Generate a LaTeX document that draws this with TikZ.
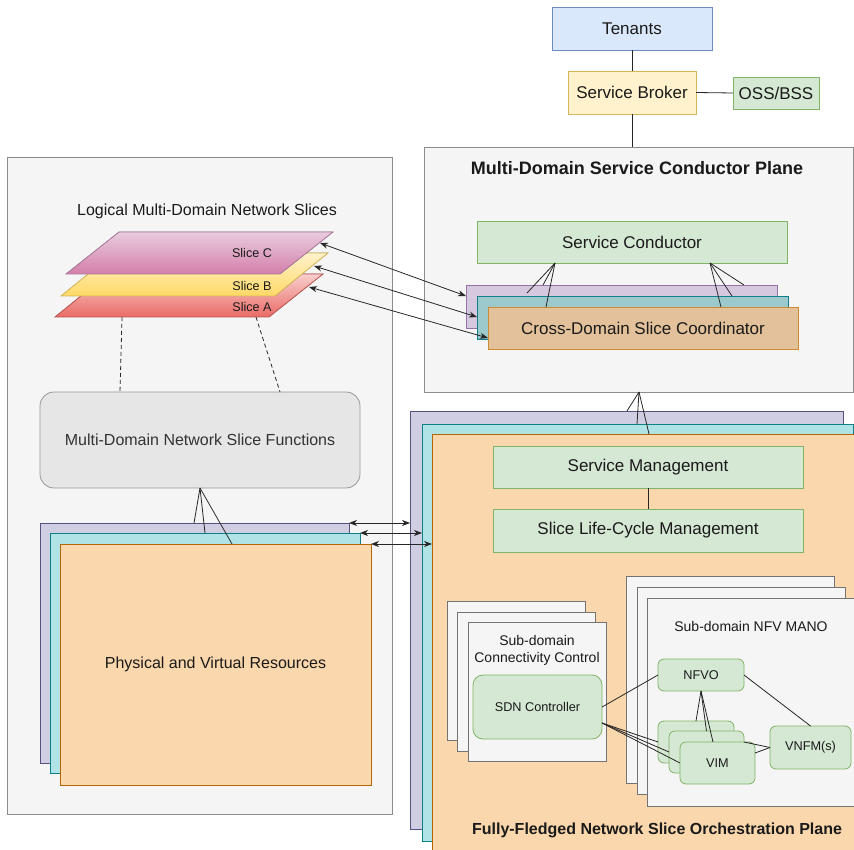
\documentclass[tikz,border=0pt]{standalone}
\usepackage{fontspec}
\setmainfont{Liberation Sans}
\usetikzlibrary{arrows.meta,calc}

\definecolor{txt}{HTML}{1A1A1A}
\definecolor{gtxt}{HTML}{333333}
\definecolor{panelfill}{HTML}{F5F5F5}
\definecolor{panelline}{HTML}{8C8C8C}
\definecolor{blueF}{HTML}{DAE8FC}\definecolor{blueD}{HTML}{6C8EBF}
\definecolor{yelF}{HTML}{FFF2CC}\definecolor{yelD}{HTML}{D6B656}
\definecolor{grnF}{HTML}{D5E8D4}\definecolor{grnD}{HTML}{82B366}
\definecolor{purF}{HTML}{D0CEE2}\definecolor{purD}{HTML}{56517E}
\definecolor{tealF}{HTML}{B0E3E6}\definecolor{tealD}{HTML}{0E8088}
\definecolor{orF}{HTML}{FAD7AC}\definecolor{orD}{HTML}{B46504}
\definecolor{cpurF}{HTML}{D6C9DF}\definecolor{cpurD}{HTML}{9673A6}
\definecolor{ctealF}{HTML}{9CC9CC}\definecolor{ctealD}{HTML}{10808A}
\definecolor{ctanF}{HTML}{E3C29B}\definecolor{ctanD}{HTML}{CC8A33}
\definecolor{mdF}{HTML}{E6E6E6}\definecolor{mdD}{HTML}{999999}
\definecolor{cTop}{HTML}{E8CCDD}\definecolor{cBot}{HTML}{D47FAA}\definecolor{cLine}{HTML}{A8779A}
\definecolor{bTop}{HTML}{FFF2CC}\definecolor{bBot}{HTML}{FFD966}\definecolor{bLine}{HTML}{D6B656}
\definecolor{aTop}{HTML}{F8CECC}\definecolor{aBot}{HTML}{EA6B66}\definecolor{aLine}{HTML}{B85450}

\begin{document}
\begin{tikzpicture}[x=1pt,y=-1pt,
  box/.style={draw,line width=0.8pt,inner sep=0pt,outer sep=0pt,anchor=north west,
              align=center,text=txt,font=\fontsize{17pt}{20pt}\selectfont},
  panel/.style={box,fill=panelfill,draw=panelline},
  greenbox/.style={box,fill=grnF,draw=grnD},
  smallgreen/.style={greenbox,rounded corners=6pt,font=\fontsize{12.7pt}{15pt}\selectfont},
  lay/.style={box,fill=#1F,draw=#1D},
  conn/.style={draw=black!85,line width=0.8pt},
  twoway/.style={conn,{Stealth[length=8pt,width=6pt,inset=2.5pt]}-{Stealth[length=8pt,width=6pt,inset=2.5pt]}},
  lbl/.style={inner sep=0pt,text=txt,align=center}]
\useasboundingbox (0,0) rectangle (854,850);

% ---------- top: tenants and broker ----------
\node[box,fill=blueF,draw=blueD,minimum width=160pt,minimum height=43pt] (tenants) at (552,7) {Tenants};
\node[box,fill=yelF,draw=yelD,minimum width=128pt,minimum height=43pt] (broker) at (568,71) {Service Broker};
\node[greenbox,minimum width=86pt,minimum height=32pt] (oss) at (733,77) {OSS/BSS};

% ---------- multi-domain service conductor plane ----------
\node[panel,minimum width=429pt,minimum height=245pt] (plane) at (424,147) {};
\node[lbl,font=\fontsize{18pt}{21pt}\selectfont\bfseries] (planeT) at (637,168) {Multi-Domain Service Conductor Plane};
\node[greenbox,minimum width=310pt,minimum height=42pt] (sc) at (477,221) {Service Conductor};
\node[lay=cpur,minimum width=311pt,minimum height=43pt] (cdP) at (466,285) {};
\node[lay=cteal,minimum width=311pt,minimum height=43pt] (cdT) at (477,296) {};
\node[lay=ctan,minimum width=310pt,minimum height=42pt] (cdO) at (488,307) {Cross-Domain Slice Coordinator};

\draw[conn] (tenants.south) -- (broker.north);
\draw[conn] (broker.east) -- (oss.west);
\draw[conn] (broker.south) -- (broker.south |- plane.north);

% service conductor fans onto the coordinator layers
\draw[conn] ($(sc.south west)+(78,0)$) -- ($(cdP.north west)+(61,8)$);
\draw[conn] ($(sc.south west)+(78,0)$) -- ($(cdP.north west)+(77,0)$);
\draw[conn] ($(sc.south west)+(78,0)$) -- ($(cdO.north west)+(58,0)$);
\draw[conn] ($(sc.south west)+(233,0)$) -- ($(cdP.north west)+(278,0)$);
\draw[conn] ($(sc.south west)+(233,0)$) -- ($(cdT.north west)+(255,0)$);
\draw[conn] ($(sc.south west)+(233,0)$) -- ($(cdO.north west)+(233,0)$);

% ---------- left panel ----------
\node[panel,minimum width=385pt,minimum height=657pt] (left) at (7,157) {};
\node[lbl,font=\fontsize{16pt}{19pt}\selectfont] (slicesT) at (207,211) {Logical Multi-Domain Network Slices};

% stacked slice planes
\fill[top color=aTop,bottom color=aBot] (108,274) -- (323,274) -- (269,317) -- (55,317) -- cycle;
\draw[aLine,line width=0.8pt] (108,274) -- (323,274) -- (269,317) -- (55,317) -- cycle;
\node[lbl,font=\fontsize{12.6pt}{15pt}\selectfont] (sliceA) at (252,307) {Slice A};
\fill[top color=bTop,bottom color=bBot] (114,253) -- (328,253) -- (275,296) -- (61,296) -- cycle;
\draw[bLine,line width=0.8pt] (114,253) -- (328,253) -- (275,296) -- (61,296) -- cycle;
\node[lbl,font=\fontsize{12.6pt}{15pt}\selectfont] (sliceB) at (252,286) {Slice B};
\fill[top color=cTop,bottom color=cBot] (119,232) -- (333,232) -- (280,274) -- (66,274) -- cycle;
\draw[cLine,line width=0.8pt] (119,232) -- (333,232) -- (280,274) -- (66,274) -- cycle;
\node[lbl,font=\fontsize{12.6pt}{15pt}\selectfont] (sliceC) at (252,253) {Slice C};
\coordinate (cR) at (320,243);
\coordinate (bR) at (314,266);
\coordinate (aR) at (309,287);
\coordinate (aL) at (122,317);
\coordinate (aM) at (256,317);

\node[box,fill=mdF,draw=mdD,rounded corners=14pt,text=gtxt,font=\fontsize{16pt}{19pt}\selectfont,
      minimum width=320pt,minimum height=96pt] (mdnsf) at (40,392) {Multi-Domain Network Slice Functions};
\draw[conn,dashed,dash pattern=on 4pt off 3pt] (aL) -- ($(mdnsf.north west)+(80,0)$);
\draw[conn,dashed,dash pattern=on 4pt off 3pt] (aM) -- ($(mdnsf.north west)+(240,0)$);

% physical and virtual resources
\node[lay=pur,minimum width=309pt,minimum height=240pt] (reP) at (40,523) {};
\node[lay=teal,minimum width=310pt,minimum height=240pt] (reT) at (50,533) {};
\node[lay=or,font=\fontsize{16pt}{19pt}\selectfont,minimum width=311pt,minimum height=241pt] (reO) at (60,544) {Physical and Virtual Resources};
\draw[conn] (mdnsf.south) -- ($(reP.north west)+(154,0)$);
\draw[conn] (mdnsf.south) -- ($(reT.north west)+(155,0)$);
\draw[conn] (mdnsf.south) -- ($(reO.north west)+(172,0)$);

% ---------- network slice orchestration plane ----------
\node[lay=pur,minimum width=433pt,minimum height=418pt] (orP) at (410,411) {};
\node[lay=teal,minimum width=431pt,minimum height=417pt] (orT) at (422,424) {};
\node[lay=or,minimum width=440pt,minimum height=440pt] (orO) at (432,434) {};
\draw[conn] ($(plane.south west)+(215,0)$) -- ($(orP.north west)+(217,0)$);
\draw[conn] ($(plane.south west)+(215,0)$) -- ($(orT.north west)+(215,0)$);
\draw[conn] ($(plane.south west)+(215,0)$) -- ($(orO.north west)+(217,0)$);

\node[greenbox,minimum width=310pt,minimum height=42pt] (smg) at (493,446) {Service Management};
\node[greenbox,minimum width=310pt,minimum height=43pt] (slcm) at (493,509) {Slice Life-Cycle Management};
\draw[conn] (smg.south) -- (slcm.north);

% sub-domain connectivity control
\node[panel,draw=black!55,minimum width=138pt,minimum height=139pt] (cc1) at (447,601) {};
\node[panel,draw=black!55,minimum width=138pt,minimum height=139pt] (cc2) at (457,612) {};
\node[panel,draw=black!55,minimum width=138pt,minimum height=139pt] (cc3) at (468,622) {};
\node[lbl,font=\fontsize{14pt}{17pt}\selectfont] (ccT) at ($(cc3.north west)+(69,28)$) {Sub-domain\\Connectivity Control};
\node[greenbox,rounded corners=10pt,font=\fontsize{12.7pt}{15pt}\selectfont,minimum width=129pt,minimum height=64pt] (sdn) at (473,675) {SDN Controller};

% sub-domain NFV MANO
\node[panel,draw=black!55,minimum width=208pt,minimum height=207pt] (mano1) at (626,576) {};
\node[panel,draw=black!55,minimum width=208pt,minimum height=207pt] (mano2) at (637,587) {};
\node[panel,draw=black!55,minimum width=207pt,minimum height=208pt] (mano3) at (647,598) {};
\node[lbl,font=\fontsize{14pt}{17pt}\selectfont] (manoT) at ($(mano3.north west)+(104,28)$) {Sub-domain NFV MANO};
\node[smallgreen,minimum width=86pt,minimum height=32pt] (nfvo) at (658,659) {NFVO};
\node[smallgreen,minimum width=76pt,minimum height=42pt] (vim1) at (658,721) {};
\node[smallgreen,minimum width=75pt,minimum height=42pt] (vim2) at (669,731) {};
\node[smallgreen,minimum width=75pt,minimum height=42pt] (vim3) at (680,742) {VIM};
\node[smallgreen,minimum width=81pt,minimum height=43pt] (vnfm) at (770,726) {VNFM(s)};

\draw[conn] (sdn.east) -- (nfvo.west);
\draw[conn] ($(sdn.north east)+(0,48)$) -- (vim1.west);
\draw[conn] ($(sdn.north east)+(0,48)$) -- (vim2.west);
\draw[conn] ($(sdn.north east)+(0,48)$) -- (vim3.west);
\draw[conn] (nfvo.south) -- (vim1.north);
\draw[conn] (nfvo.south) -- (vim2.north);
\draw[conn] (nfvo.south) -- ($(vim3.north west)+(33,0)$);
\draw[conn] (nfvo.east) -- (vnfm.north);
\draw[conn] (vnfm.west) -- ($(vim2.north east)+(0,11)$);
\draw[conn] (vnfm.west) -- ($(vim3.north east)+(0,11)$);

\node[lbl,font=\fontsize{16pt}{19pt}\selectfont\bfseries] (orT2) at (657,830) {Fully-Fledged Network Slice Orchestration Plane};

% ---------- two-way links ----------
\draw[twoway] (cR) -- ($(cdP.north west)+(0,11)$);
\draw[twoway] (bR) -- ($(cdT.north west)+(0,21)$);
\draw[twoway] (aR) -- ($(cdO.north west)+(0,31)$);
\draw[twoway] (reP.north east) -- (reP.north east -| orP.west);
\draw[twoway] (reT.north east) -- (reT.north east -| orT.west);
\draw[twoway] (reO.north east) -- (reO.north east -| orO.west);
\end{tikzpicture}
\end{document}
